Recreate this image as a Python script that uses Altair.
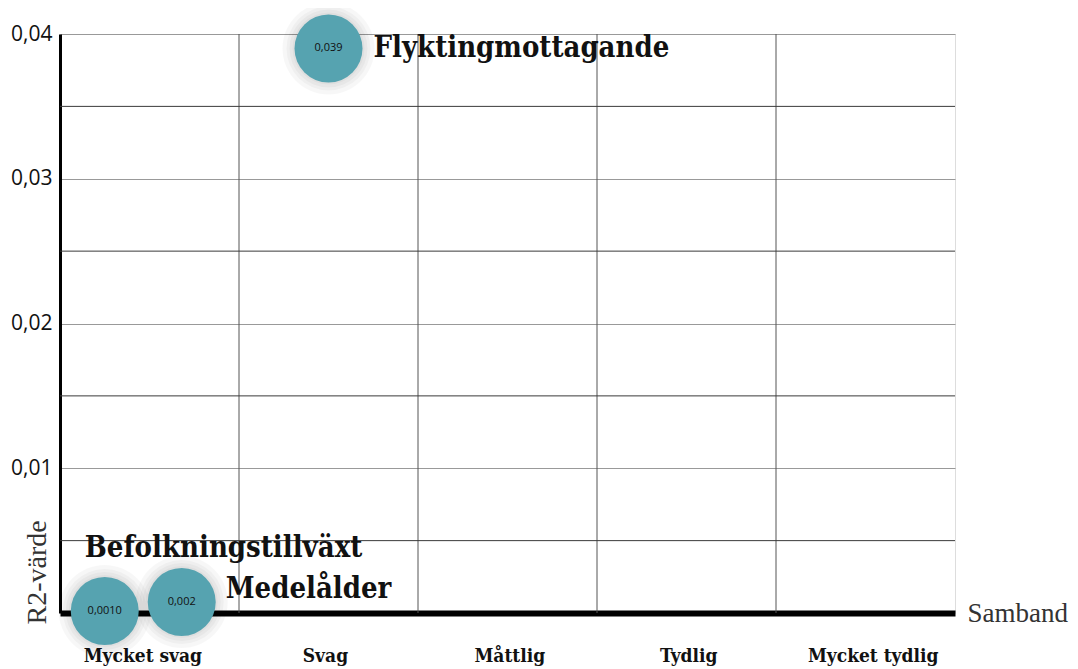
import altair as alt
import pandas as pd

# ---- data ----
names = ["Befolkningstillväxt", "Medelålder", "Flyktingmottagande"]
r2_text = ["0,0010", "0,002", "0,039"]
x_pos = [0.25, 0.68, 1.50]
y_pos = [0.00014, 0.00076, 0.039]

categories = ["Mycket svag", "Svag", "Måttlig", "Tydlig", "Mycket tydlig"]
cat_pos = [0.46, 1.48, 2.51, 3.51, 4.54]
band_bounds = [1, 2, 3, 4]
y_ticks = [0.01, 0.02, 0.03, 0.04]
half_ticks = [0.005, 0.015, 0.025, 0.035]

df = pd.DataFrame({"name": names, "txt": r2_text, "x": x_pos, "y": y_pos})
df_b = pd.DataFrame({"b": band_bounds})
df_h = pd.DataFrame({"h": half_ticks})

label_expr = " : ".join(
    [f"datum.value == {p} ? '{c}'" for p, c in zip(cat_pos, categories)]
) + " : ''"

xscale = alt.Scale(domain=[0, 5], nice=False, zero=False)
yscale = alt.Scale(domain=[0, 0.04], nice=False)

X = alt.X(
    "x:Q",
    scale=xscale,
    axis=alt.Axis(
        values=cat_pos,
        labelExpr=label_expr,
        grid=False,
        ticks=False,
        domainColor="#000",
        domainWidth=6,
        labelFont="DejaVu Serif Condensed",
        labelFontWeight="bold",
        labelFontSize=19,
        labelColor="#111",
        labelPadding=33,
        labelFlush=False,
        title="Samband",
        titleFont="Liberation Serif",
        titleFontWeight="normal",
        titleFontSize=27,
        titleColor="#333",
        titleX=907,
        titleY=0,
        titleAlign="left",
        titleBaseline="middle",
        titleAnchor="start",
    ),
)
Y = alt.Y(
    "y:Q",
    scale=yscale,
    axis=alt.Axis(
        values=y_ticks,
        labelExpr="replace(format(datum.value, '.2f'), '.', ',')",
        grid=True,
        gridColor="#999",
        gridWidth=1,
        ticks=False,
        domainColor="#000",
        domainWidth=3,
        labelFont="Open Sans",
        labelFontSize=21,
        labelColor="#111",
        labelPadding=8,
        labelBaseline="middle",
        title="R2-värde",
        titleFont="Liberation Serif",
        titleFontWeight="normal",
        titleFontSize=28,
        titleColor="#333",
        titleAngle=270,
        titleX=-23,
        titleY=590,
        titleAlign="left",
        titleBaseline="middle",
    ),
)

vrules = alt.Chart(df_b).mark_rule(color="#555", strokeWidth=1).encode(
    x=alt.X("b:Q", scale=xscale)
)
hrules = alt.Chart(df_h).mark_rule(color="#3a3a3a", strokeWidth=1).encode(
    y=alt.Y("h:Q", scale=yscale)
)

base = alt.Chart(df).encode(x=X, y=Y)

halos = [
    base.mark_circle(size=s, color="#000", opacity=0.03)
    for s in [5184, 6084, 7056, 8464]
]
circles = base.mark_circle(size=4624, color="#56a3b0", opacity=1)
ctext = base.mark_text(font="Open Sans", fontSize=11, color="#111").encode(
    text="txt:N"
)

offsets = {
    "Befolkningstillväxt": (-20, -63),
    "Medelålder": (44, -13),
    "Flyktingmottagande": (45, 0),
}
label_layers = []
for n, (dx, dy) in offsets.items():
    sub = base.transform_filter(alt.datum.name == n)
    for sw, so in [(24, 0.025), (14, 0.035)]:
        label_layers.append(
            sub.mark_text(
                align="left", baseline="middle", dx=dx, dy=dy + 3,
                font="DejaVu Serif Condensed", fontWeight="bold", fontSize=29,
                color="#000", opacity=0, stroke="#000", strokeWidth=sw,
                strokeOpacity=so, strokeJoin="round",
            ).encode(text="name:N")
        )
    label_layers.append(
        sub.mark_text(
            align="left", baseline="middle", dx=dx, dy=dy,
            font="DejaVu Serif Condensed", fontWeight="bold", fontSize=29,
            color="#111",
        ).encode(text="name:N")
    )

chart = alt.layer(
    vrules, hrules, *halos, circles, ctext, *label_layers
).properties(
    width=895,
    height=579,
    autosize=alt.AutoSizeParams(type="none"),
    padding={"left": 52, "top": 26, "right": 115, "bottom": 54},
).configure_view(stroke=None).configure(background="white")

chart.save("out.html", embed_options={"renderer": "svg", "actions": False})
